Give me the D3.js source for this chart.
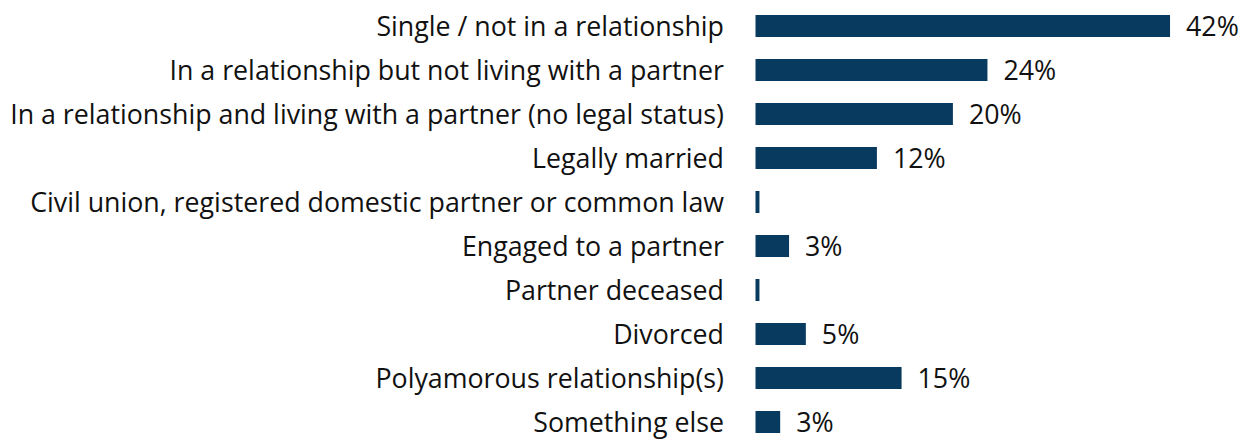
<!DOCTYPE html>
<html>
<head>
<meta charset="utf-8">
<script src="https://cdn.jsdelivr.net/npm/d3@7"></script>
<style>
  body { margin: 0; background: #fff; }
  text { font-family: "Open Sans", Lato, sans-serif; fill: #111; }
</style>
</head>
<body>
<div id="chart"></div>
<script>
var categories = [
  "Single / not in a relationship",
  "In a relationship but not living with a partner",
  "In a relationship and living with a partner (no legal status)",
  "Legally married",
  "Civil union, registered domestic partner or common law",
  "Engaged to a partner",
  "Partner deceased",
  "Divorced",
  "Polyamorous relationship(s)",
  "Something else"
];
var values = [42, 23.5, 20, 12.3, 0.4, 3.4, 0.4, 5.1, 14.8, 2.5];
var valueLabels = ["42%", "24%", "20%", "12%", "", "3%", "", "5%", "15%", "3%"];

var width = 1251, height = 441;
var barLeft = 755.5;

var svg = d3.select("#chart").append("svg")
    .attr("width", width)
    .attr("height", height);

// x scale: ~9.87px per percent
var x = d3.scaleLinear().domain([0, 50]).range([barLeft, barLeft + 493.5]);
var y = d3.scaleBand().domain(categories).range([4, 444])
    .paddingInner(0.5).paddingOuter(0.25);

svg.selectAll("rect.bar")
    .data(categories)
    .enter()
    .append("rect")
    .attr("class", "bar")
    .attr("x", x(0))
    .attr("y", function(d) { return y(d); })
    .attr("width", function(d, i) { return x(values[i]) - x(0); })
    .attr("height", y.bandwidth())
    .attr("fill", "#083a5f");

// category labels
var labels = svg.selectAll("text.cat")
    .data(categories)
    .enter()
    .append("text")
    .attr("class", "cat")
    .attr("x", 724)
    .attr("y", function(d) { return y(d) + y.bandwidth() / 2; })
    .attr("dy", "0.36em")
    .attr("text-anchor", "end")
    .style("font-size", "24px")
    .text(function(d) { return d; });

// fit the longest label to the width it has in the original (~714px)
var longest = d3.max(labels.nodes(), function(n) { return n.getComputedTextLength(); });
var fs = 24 * 714 / longest;
labels.style("font-size", fs + "px");

// value labels
svg.selectAll("text.val")
    .data(categories)
    .enter()
    .append("text")
    .attr("class", "val")
    .attr("x", function(d, i) { return x(values[i]) + 16; })
    .attr("y", function(d) { return y(d) + y.bandwidth() / 2; })
    .attr("dy", "0.36em")
    .style("font-size", fs + "px")
    .text(function(d, i) { return valueLabels[i]; });
</script>
</body>
</html>
